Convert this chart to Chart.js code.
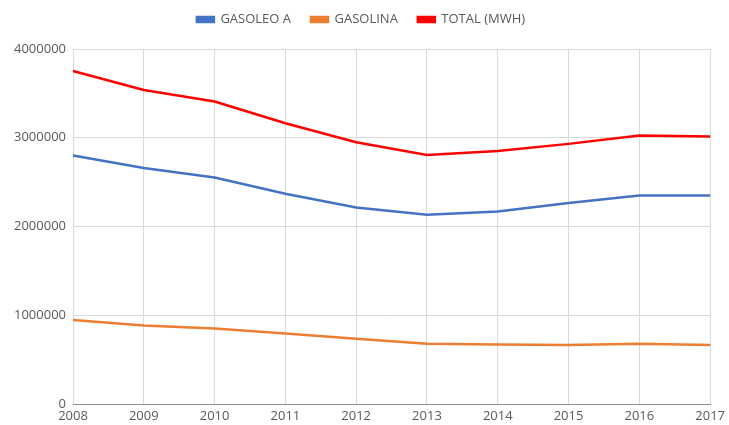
<!DOCTYPE html>
<html>
<head>
<meta charset="utf-8">
<script src="https://cdn.jsdelivr.net/npm/chart.js@4"></script>
<style>
    html, body { margin: 0; padding: 0; background: #ffffff; }
    #wrap { width: 729px; height: 425px; }
</style>
</head>
<body>
<div id="wrap"><canvas id="fuelChart" width="729" height="425"></canvas></div>
<script>
const years = ["2008", "2009", "2010", "2011", "2012", "2013", "2014", "2015", "2016", "2017"];
const gasoleoA = [2800000, 2658000, 2552000, 2368000, 2214000, 2132000, 2169000, 2264000, 2349000, 2349000];
const gasolina = [946000, 885000, 851000, 795000, 735000, 679000, 671000, 664000, 679000, 664000];
const totalMwh = [3753000, 3539000, 3408000, 3164000, 2950000, 2807000, 2852000, 2931000, 3025000, 3014000];
const yTicks = [0, 1000000, 2000000, 3000000, 4000000];

(function () {
    const textColor = "#595959";
    const gridColor = "#d9d9d9";
    const font = { family: "'Open Sans', 'Liberation Sans', sans-serif", size: 13 };

    function series(label, data, color) {
        return {
            label: label,
            data: data,
            borderColor: color,
            backgroundColor: color,
            borderWidth: 2.5,
            pointRadius: 0,
            tension: 0,
        };
    }

    // legend gets a fixed height so the plot top lands where the reference has it
    const legendHeight = {
        id: "legendHeight",
        afterInit(chart) {
            const legend = chart.legend;
            const fit = legend.fit.bind(legend);
            legend.fit = function () {
                fit();
                this.height = 56;
            };
        },
    };

    new Chart(document.getElementById("fuelChart"), {
        type: "line",
        data: {
            labels: years,
            datasets: [
                series("GASOLEO A", gasoleoA, "#4472c4"),
                series("GASOLINA", gasolina, "#ed7d31"),
                series("TOTAL (MWH)", totalMwh, "#ff0000"),
            ],
        },
        plugins: [legendHeight],
        options: {
            responsive: false,
            animation: false,
            layout: { padding: { left: 8, right: 15, top: -7, bottom: 0 } },
            plugins: {
                legend: {
                    position: "top",
                    labels: {
                        color: textColor,
                        font: font,
                        boxWidth: 17,
                        boxHeight: 5,
                        padding: 20,
                    },
                },
                tooltip: { enabled: false },
            },
            scales: {
                x: {
                    offset: false,
                    grid: { color: gridColor, drawTicks: false },
                    border: { color: "#8c8c8c" },
                    ticks: { color: textColor, font: font, padding: 4, maxRotation: 0 },
                    afterFit: (scale) => { scale.height = 21; },
                },
                y: {
                    min: 0,
                    max: 4000000,
                    afterBuildTicks: (scale) => {
                        scale.ticks = yTicks.map((v) => ({ value: v }));
                    },
                    grid: { color: gridColor, drawTicks: false },
                    border: { display: false },
                    ticks: {
                        color: textColor,
                        font: font,
                        padding: 7,
                        callback: (v) => String(v),
                    },
                    afterFit: (scale) => { scale.width = 65; },
                },
            },
        },
    });
})();
</script>
</body>
</html>
